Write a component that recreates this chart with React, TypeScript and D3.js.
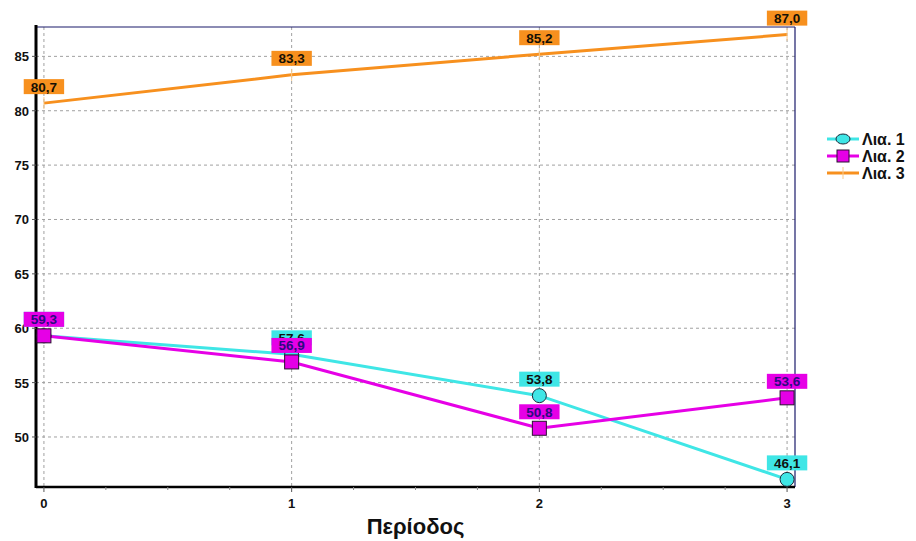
import React from "react";
import * as d3 from "d3";

const categories = [0, 1, 2, 3];
const lia1 = [59.3, 57.6, 53.8, 46.1];
const lia2 = [59.3, 56.9, 50.8, 53.6];
const lia3 = [80.7, 83.3, 85.2, 87.0];
const seriesNames = ["Λια. 1", "Λια. 2", "Λια. 3"];
const yTicks = [50, 55, 60, 65, 70, 75, 80, 85];
const xTitle = "Περίοδος";

const W = 916, H = 541;
const L = 36, R = 795, T = 27, B = 487;

const colors = ["#3fe6e6", "#e600e6", "#f7901e"];
const labelText = ["#101010", "#2a0a80", "#151005"];

export default function App() {
  const x = d3.scaleLinear().domain([-0.032, 3.032]).range([L, R]);
  const y = d3.scaleLinear().domain([45.4, 87.7]).range([B, T]);
  const all = [lia1, lia2, lia3];
  const line = d3.line<number>().x((_, i) => x(categories[i])).y((d) => y(d));
  const fmt = (v: number) => v.toFixed(1).replace(".", ",");
  const font = "Arial, 'Liberation Sans', sans-serif";
  const minorX = d3.range(-0.0, 3.0001, 0.25).filter((v) => Math.abs(v - Math.round(v)) > 0.01);

  const labels = (vals: number[], si: number) =>
    vals.map((v, i) => {
      const t = fmt(v);
      const w = t.length * 7.6 + 10;
      const cx = x(categories[i]);
      const by = y(v) - 9;
      return (
        <g key={`l${si}-${i}`}>
          <rect x={cx - w / 2} y={by - 15} width={w} height={15} fill={colors[si]} />
          <text x={cx} y={by - 2.5} textAnchor="middle" fontFamily={font} fontWeight="bold" fontSize={13.5} fill={labelText[si]}>
            {t}
          </text>
        </g>
      );
    });

  return (
    <svg width={W} height={H} style={{ position: "absolute", left: 0, top: 0, background: "#fff" }}>
      {yTicks.map((t) => (
        <line key={`gy${t}`} x1={L} x2={R} y1={y(t)} y2={y(t)} stroke="#a0a0a0" strokeDasharray="3,3" />
      ))}
      {categories.map((c) => (
        <line key={`gx${c}`} x1={x(c)} x2={x(c)} y1={T} y2={B} stroke="#a0a0a0" strokeDasharray="3,3" />
      ))}
      <line x1={L} x2={R} y1={T} y2={T} stroke="#1a1a6a" strokeWidth={1.2} />
      <line x1={R} x2={R} y1={T} y2={B} stroke="#1a1a6a" strokeWidth={1.2} />
      <line x1={L} x2={R} y1={B} y2={B} stroke="#000" strokeWidth={2.5} />
      <line x1={L} x2={L} y1={T - 2} y2={B + 1} stroke="#000" strokeWidth={3} />
      {yTicks.map((t) => (
        <g key={`ty${t}`}>
          <line x1={L - 4} x2={L} y1={y(t)} y2={y(t)} stroke="#555" />
          <text x={29} y={y(t) + 5} textAnchor="end" fontFamily={font} fontWeight="bold" fontSize={13} fill="#111">
            {t}
          </text>
        </g>
      ))}
      {categories.map((c) => (
        <g key={`tx${c}`}>
          <line x1={x(c)} x2={x(c)} y1={B} y2={B + 5} stroke="#555" />
          <text x={x(c)} y={508} textAnchor="middle" fontFamily={font} fontWeight="bold" fontSize={13} fill="#111">
            {c}
          </text>
        </g>
      ))}
      {minorX.map((v) => (
        <line key={`mx${v}`} x1={x(v)} x2={x(v)} y1={B} y2={B + 3} stroke="#888" />
      ))}
      {all.map((vals, si) => (
        <path key={`p${si}`} d={line(vals) || ""} fill="none" stroke={colors[si]} strokeWidth={3} />
      ))}
      {lia1.map((v, i) => (
        <circle key={`c${i}`} cx={x(categories[i])} cy={y(v)} r={7} fill={colors[0]} stroke="#1b2a3a" strokeWidth={1} />
      ))}
      {lia2.map((v, i) => (
        <rect key={`s${i}`} x={x(categories[i]) - 7} y={y(v) - 7} width={14} height={14} fill={colors[1]} stroke="#2a1030" strokeWidth={1} />
      ))}
      {lia3.map((v, i) => (
        <line key={`p3${i}`} x1={x(categories[i])} x2={x(categories[i])} y1={y(v) - 6} y2={y(v) + 6} stroke="#f9c98a" strokeWidth={1} />
      ))}
      {labels(lia1, 0)}
      {labels(lia2, 1)}
      {labels(lia3, 2)}
      {seriesNames.map((n, i) => {
        const ly = 139 + i * 17;
        return (
          <g key={`lg${i}`}>
            <line x1={827} x2={859} y1={ly} y2={ly} stroke={colors[i]} strokeWidth={3} />
            {i === 0 && <ellipse cx={843} cy={ly} rx={7} ry={5} fill={colors[0]} stroke="#1b2a3a" />}
            {i === 1 && <rect x={837} y={ly - 6} width={12} height={12} fill={colors[1]} stroke="#2a1030" />}
            {i === 2 && <line x1={843} x2={843} y1={ly - 6} y2={ly + 6} stroke="#f9c98a" />}
            <text x={862} y={ly + 6} fontFamily={font} fontWeight="bold" fontSize={16} fill="#111">
              {n}
            </text>
          </g>
        );
      })}
      <text x={(L + R) / 2} y={534} textAnchor="middle" fontFamily={font} fontWeight="bold" fontSize={22} fill="#111">
        {xTitle}
      </text>
    </svg>
  );
}
